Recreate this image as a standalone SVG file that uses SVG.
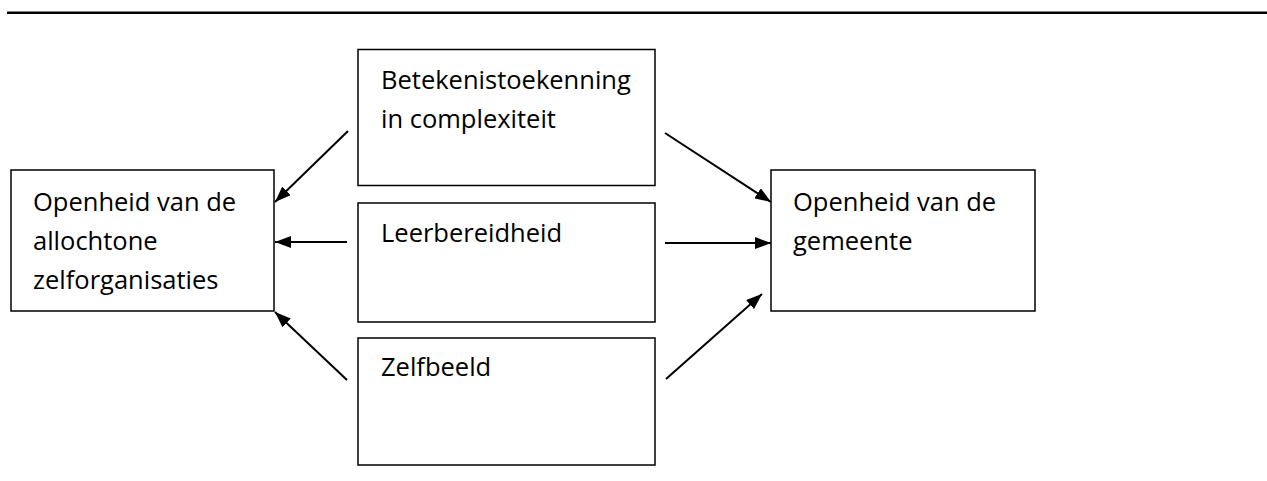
<svg xmlns="http://www.w3.org/2000/svg" width="1267" height="481" viewBox="0 0 1267 481">
<style>
.box{fill:#fff;stroke:#000;stroke-width:1.5}
.t{font-family:"Open Sans","Liberation Sans",sans-serif;font-size:25.5px;fill:#000}
.c{stroke:#000;stroke-width:2;fill:none;marker-end:url(#ah)}
</style>
<defs>
<marker id="ah" viewBox="0 0 16 12" refX="16" refY="6" markerWidth="16" markerHeight="12" markerUnits="userSpaceOnUse" orient="auto">
<path d="M0,0 L16,6 L0,12 Z" fill="#000"/>
</marker>
</defs>
<rect x="7" y="11.5" width="1260" height="2.5" fill="#000"/>
<g id="n-left">
<rect class="box" x="11" y="170" width="263" height="141"/>
<text class="t" x="33" y="211">Openheid van de</text>
<text class="t" x="33" y="250">allochtone</text>
<text class="t" x="33" y="289">zelforganisaties</text>
</g>
<g id="n-top">
<rect class="box" x="358" y="49.5" width="297" height="136"/>
<text class="t" x="381" y="89">Betekenistoekenning</text>
<text class="t" x="381" y="128">in complexiteit</text>
</g>
<g id="n-mid">
<rect class="box" x="358" y="203" width="297" height="119"/>
<text class="t" x="381" y="242">Leerbereidheid</text>
</g>
<g id="n-bot">
<rect class="box" x="358" y="338" width="297" height="127"/>
<text class="t" x="381" y="376">Zelfbeeld</text>
</g>
<g id="n-right">
<rect class="box" x="771" y="170" width="264" height="141"/>
<text class="t" x="793" y="211">Openheid van de</text>
<text class="t" x="793" y="250">gemeente</text>
</g>
<g id="connectors">
<line class="c" x1="348" y1="131" x2="275" y2="202"/>
<line class="c" x1="347" y1="242" x2="275" y2="242"/>
<line class="c" x1="347" y1="380" x2="275" y2="312"/>
<line class="c" x1="665" y1="133" x2="771" y2="202"/>
<line class="c" x1="665" y1="243" x2="771" y2="243"/>
<line class="c" x1="666" y1="379" x2="762" y2="294"/>
</g>
</svg>
